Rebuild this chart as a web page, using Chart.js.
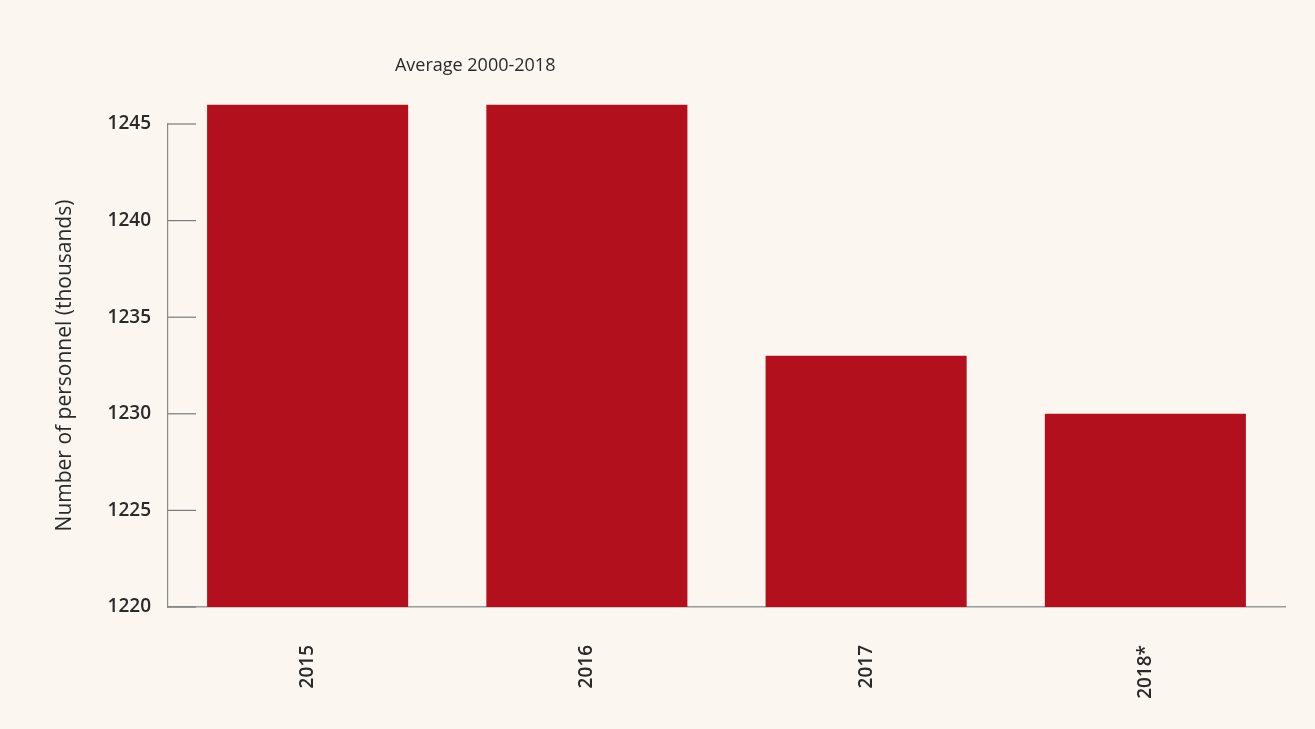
<!DOCTYPE html>
<html>
<head>
<meta charset="utf-8">
<script src="https://cdn.jsdelivr.net/npm/chart.js@4"></script>
<style>
  html, body { margin: 0; padding: 0; background: #fbf7f0; }
  #wrap { width: 1315px; height: 729px; }
</style>
</head>
<body>
<div id="wrap"><canvas id="personnelChart"></canvas></div>
<script>
const years = ['2015', '2016', '2017', '2018*'];
const personnel = [1246, 1246, 1233, 1230];
const yTicks = [1220, 1225, 1230, 1235, 1240, 1245];
const noteText = 'Average 2000-2018';

// inward tick marks on the y axis + the note above the bars
const extras = {
    id: 'extras',
    afterDraw(chart) {
        const ctx = chart.ctx;
        const y = chart.scales.y;
        const area = chart.chartArea;
        ctx.save();
        ctx.strokeStyle = '#7a7a7a';
        ctx.lineWidth = 1.2;
        yTicks.forEach(function(v) {
            const py = y.getPixelForValue(v);
            ctx.beginPath();
            ctx.moveTo(area.left, py);
            ctx.lineTo(area.left + 28, py);
            ctx.stroke();
        });
        ctx.fillStyle = '#2a2a2a';
        ctx.font = '500 18px "Open Sans"';
        ctx.textAlign = 'center';
        ctx.textBaseline = 'middle';
        ctx.fillText(noteText, area.left + (area.right - area.left) * 0.275, 66);
        ctx.restore();
    }
};

document.addEventListener('DOMContentLoaded', function() {
    const ctx = document.getElementById('personnelChart').getContext('2d');

    new Chart(ctx, {
        type: 'bar',
        data: {
            labels: years,
            datasets: [{
                data: personnel,
                backgroundColor: '#b2101c',
                borderWidth: 0,
                barPercentage: 0.72,
                categoryPercentage: 1,
                base: 1220,
                clip: false
            }]
        },
        options: {
            responsive: true,
            maintainAspectRatio: false,
            animation: false,
            layout: {
                padding: { left: 50, right: 30, top: 124, bottom: 22 }
            },
            plugins: {
                legend: { display: false },
                tooltip: { enabled: false }
            },
            scales: {
                x: {
                    grid: { display: false, drawTicks: false },
                    border: { display: true, color: '#9a9a9a', width: 1.5 },
                    ticks: {
                        minRotation: 90,
                        maxRotation: 90,
                        padding: 38,
                        color: '#2a2a2a',
                        font: { family: 'Open Sans', size: 19, weight: '600' }
                    },
                    afterFit: function(scale) { scale.height = 100; }
                },
                y: {
                    min: 1220,
                    max: 1245,
                    afterBuildTicks: function(scale) {
                        scale.ticks = yTicks.map(function(v) { return { value: v }; });
                    },
                    grid: { display: false, drawTicks: false },
                    border: { display: true, color: '#8a8a8a', width: 1.2 },
                    ticks: {
                        padding: 17,
                        color: '#2a2a2a',
                        font: { family: 'Open Sans', size: 19, weight: '600' },
                        callback: function(value) { return String(value); }
                    },
                    title: {
                        display: true,
                        text: 'Number of personnel (thousands)',
                        color: '#2a2a2a',
                        padding: { top: 2, bottom: 0 },
                        font: { family: 'Open Sans', size: 21 }
                    },
                    afterFit: function(scale) { scale.width = 118; }
                }
            }
        },
        plugins: [extras]
    });
});
</script>
</body>
</html>
